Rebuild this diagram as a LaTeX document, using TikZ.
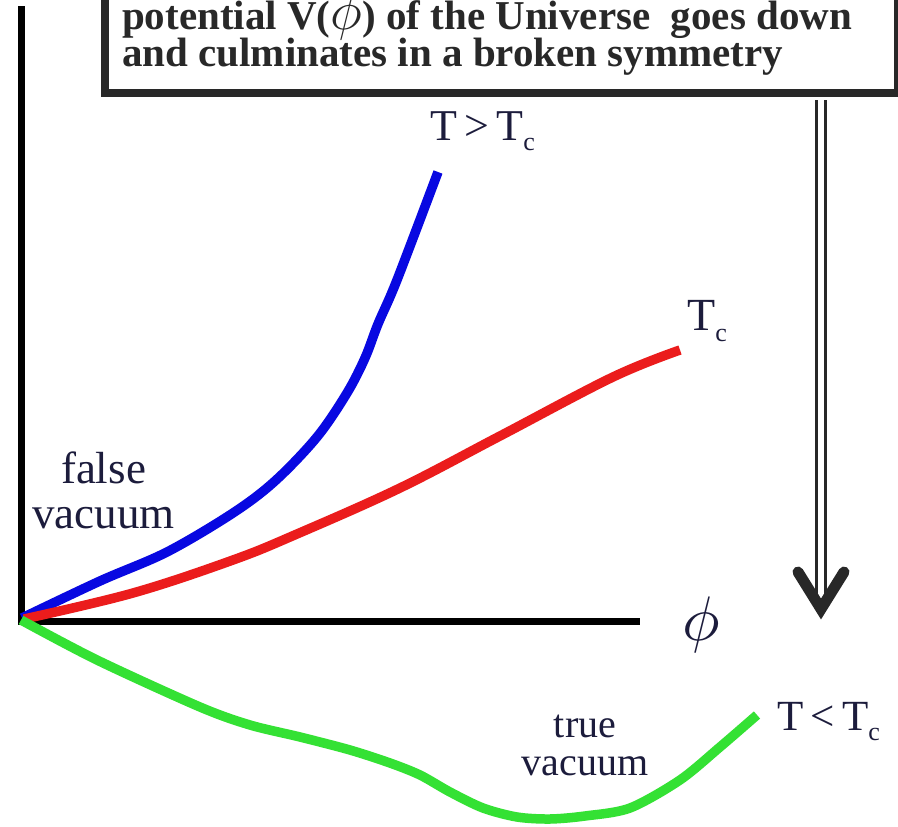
\documentclass[tikz,border=0pt]{standalone}
\usepackage{fontspec}
\usepackage{graphicx}
\setmainfont{Liberation Serif}
\definecolor{curveblue}{RGB}{8,8,225}
\definecolor{curvered}{RGB}{235,28,28}
\definecolor{curvegreen}{RGB}{52,225,52}
\definecolor{labelink}{RGB}{28,28,60}
\definecolor{boxink}{RGB}{40,40,40}
\tikzset{
  axisline/.style={line width=7pt, black, line join=miter},
  curve/.style={line width=9.5pt, line cap=butt, line join=round},
  plotlabel/.style={inner sep=0pt, text=labelink},
  noticebox/.style={draw=boxink, line width=7.5pt, fill=white, inner sep=0pt},
  boxtext/.style={inner sep=0pt, text=boxink, anchor=base west, font=\fontsize{41}{42}\selectfont\bfseries},
  railline/.style={draw=boxink, line width=3.6pt},
  chevron/.style={draw=boxink, line width=11pt, line cap=round, line join=miter}
}
\newcommand{\subc}{\raisebox{-0.24em}{\fontsize{26}{26}\selectfont c}}
\begin{document}
\begin{tikzpicture}[x=1pt, y=-1pt]
\useasboundingbox (0,0) rectangle (898,827);
\fill[white] (0,0) rectangle (898,827);
% axes
\coordinate (ytop) at (21.5,6);
\coordinate (O) at (21.5,621.5);
\coordinate (xend) at (640,621.5);
\draw[axisline] (ytop) -- (O) -- (xend);
% curves
\draw[curve, curveblue] plot[smooth, tension=0.55] coordinates {(22,618) (100,581) (167,552) (233,513) (275,481) (317,437) (347,393) (365,358) (378,324) (397,280) (438,172)};
\draw[curve, curvered] plot[smooth, tension=0.6] coordinates {(24,619) (133,593) (233,560) (297,534) (400,488) (500,436) (613,377) (680,350)};
\draw[curve, curvegreen] plot[smooth, tension=0.5] coordinates {(21,620) (97,660) (200,707) (250,725) (300,737) (350,750) (390,763) (420,775) (450,792) (483,808) (517,817) (550,819) (585,816) (630,808) (680,780) (720,747) (757,715)};
% labels
\node[plotlabel, anchor=base west, font=\fontsize{44}{44}\selectfont] (tgt) at (430,140) {T\,>\,T\subc};
\node[plotlabel, anchor=base west, font=\fontsize{46}{46}\selectfont] (tc) at (687,330) {T\subc};
\node[plotlabel, anchor=base west, font=\fontsize{43}{43}\selectfont] (tlt) at (777,730) {T\,<\,T\subc};
\node[plotlabel, anchor=base, align=center, font=\fontsize{45}{45}\selectfont] (fv) at (103.5,528) {false\\vacuum};
\node[plotlabel, anchor=base, align=center, font=\fontsize{40}{38}\selectfont] (tv) at (585,775) {true\\vacuum};
\node[plotlabel] (phi) at (701,625) {\scalebox{6.3}{$\phi$}};
% notice box
\node[noticebox, anchor=south west, minimum width=793pt, minimum height=200pt] (box) at (101,96.5) {};
\node[boxtext] (line1) at (122,29) {potential V(\scalebox{2.2}{$\phi$}) of the Universe\ \ goes down};
\node[boxtext] (line2) at (122,66) {and culminates in a broken symmetry};
% double arrow
\coordinate (rtop) at (821,100);
\coordinate (rbot) at (821,600);
\coordinate (tip) at (821,609);
\coordinate (armL) at (798,572);
\coordinate (armR) at (844,572);
\draw[railline] ([xshift=-4.5pt]rtop) -- ([xshift=-4.5pt]rbot);
\draw[railline] ([xshift=4.5pt]rtop) -- ([xshift=4.5pt]rbot);
\draw[chevron] (armL) -- (tip) -- (armR);
\end{tikzpicture}
\end{document}
